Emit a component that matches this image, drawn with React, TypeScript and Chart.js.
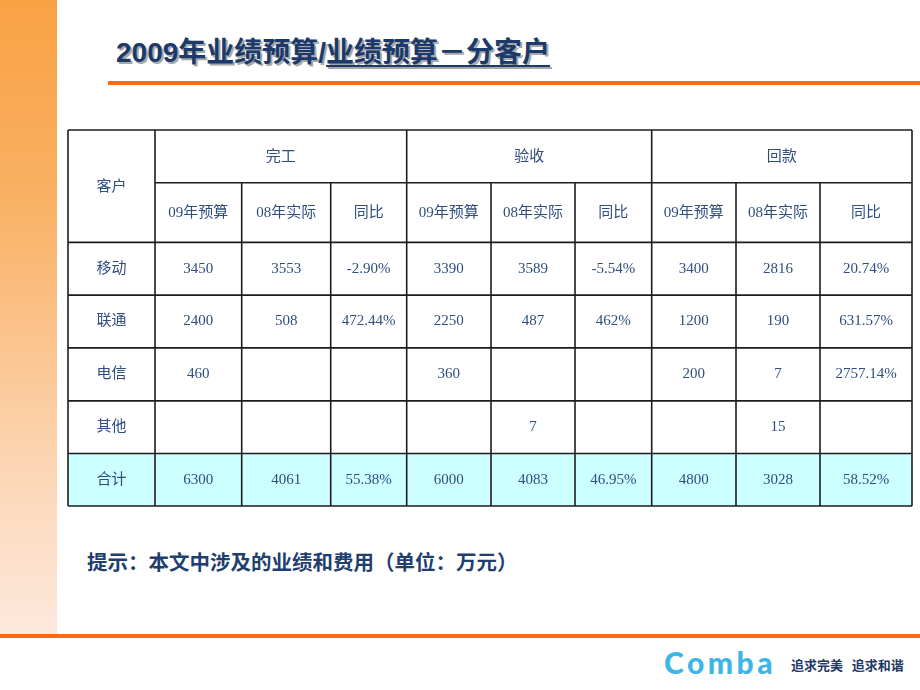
import React, { useEffect, useRef } from "react";
import { Chart, registerables } from "chart.js";

Chart.register(...registerables);

// ---- data ----
const titleMain = "2009年业绩预算/";
const titleSub = "业绩预算－分客户";
const hintText = "提示：本文中涉及的业绩和费用（单位：万元）";
const customerHeader = "客户";
const groups = ["完工", "验收", "回款"];
const subHeaders = ["09年预算", "08年实际", "同比"];
const customers = ["移动", "联通", "电信", "其他", "合计"];

const wangong09 = [3450, 2400, 460, null, 6300];
const wangong08 = [3553, 508, null, null, 4061];
const wangongYoY = ["-2.90%", "472.44%", "", "", "55.38%"];

const yanshou09 = [3390, 2250, 360, null, 6000];
const yanshou08 = [3589, 487, null, 7, 4083];
const yanshouYoY = ["-5.54%", "462%", "", "", "46.95%"];

const huikuan09 = [3400, 1200, 200, null, 4800];
const huikuan08 = [2816, 190, 7, 15, 3028];
const huikuanYoY = ["20.74%", "631.57%", "2757.14%", "", "58.52%"];

// ---- layout (sizes only) ----
const colWidths = [87, 86.7, 89, 76, 84.3, 84, 76.7, 84.3, 84, 92];
const rowHeights = [52.7, 59.6, 52.7, 52.7, 53, 52.6, 52.4];

const cum = (arr: number[]) => {
  const out = [0];
  arr.forEach((v) => out.push(out[out.length - 1] + v));
  return out;
};
const colEdges = cum(colWidths);
const rowEdges = cum(rowHeights);

const fmt = (v: number | string | null) =>
  v === null || v === undefined ? "" : String(v);

const columns = [
  wangong09, wangong08, wangongYoY,
  yanshou09, yanshou08, yanshouYoY,
  huikuan09, huikuan08, huikuanYoY,
];

const textColor = "#2F4E7E";
const lineColor = "#1c1c1c";
const totalFill = "#CCFFFF";
const cellFont = '15px "Liberation Serif", "Noto Sans CJK SC", serif';

const tablePlugin = {
  id: "tablePlugin",
  beforeDatasetsDraw(chart: any) {
    const { ctx, scales } = chart;
    const x = scales.x;
    const y = scales.y;
    const X = (i: number) => x.getPixelForValue(colEdges[i]);
    const Y = (j: number) => y.getPixelForValue(rowEdges[j]);
    const nCols = colWidths.length;
    const nRows = rowHeights.length;

    ctx.save();
    // total row fill
    ctx.fillStyle = totalFill;
    ctx.fillRect(X(0), Y(nRows - 1), X(nCols) - X(0), Y(nRows) - Y(nRows - 1));

    // grid lines
    ctx.strokeStyle = lineColor;
    ctx.lineWidth = 1.6;
    const line = (x1: number, y1: number, x2: number, y2: number) => {
      ctx.beginPath();
      ctx.moveTo(x1, y1);
      ctx.lineTo(x2, y2);
      ctx.stroke();
    };
    for (let i = 0; i <= nCols; i++) {
      const full = i === 0 || i === nCols || (i - 1) % 3 === 0;
      line(X(i), full ? Y(0) : Y(1), X(i), Y(nRows));
    }
    for (let j = 0; j <= nRows; j++) {
      line(j === 1 ? X(1) : X(0), Y(j), X(nCols), Y(j));
    }

    // text
    ctx.fillStyle = textColor;
    ctx.font = cellFont;
    ctx.textAlign = "center";
    ctx.textBaseline = "middle";
    const cx = (a: number, b: number) => (X(a) + X(b)) / 2;
    const cy = (a: number, b: number) => (Y(a) + Y(b)) / 2;

    ctx.fillText(customerHeader, cx(0, 1), cy(0, 2) + 1);
    groups.forEach((g, gi) => {
      ctx.fillText(g, cx(1 + gi * 3, 4 + gi * 3), cy(0, 1) + 1);
      subHeaders.forEach((s, si) => {
        const c = 1 + gi * 3 + si;
        ctx.fillText(s, cx(c, c + 1), cy(1, 2));
      });
    });
    customers.forEach((name, ri) => {
      const r = 2 + ri;
      ctx.fillText(name, cx(0, 1), cy(r, r + 1));
      columns.forEach((col, ci) => {
        const t = fmt(col[ri] as any);
        if (t) ctx.fillText(t, cx(ci + 1, ci + 2), cy(r, r + 1));
      });
    });
    ctx.restore();
  },
};

function TableChart() {
  const ref = useRef<HTMLCanvasElement | null>(null);
  useEffect(() => {
    if (!ref.current) return;
    const chart = new Chart(ref.current, {
      type: "scatter",
      data: { datasets: [{ data: [], showLine: false }] },
      options: {
        animation: false,
        responsive: false,
        events: [],
        layout: { padding: 2 },
        plugins: { legend: { display: false }, tooltip: { enabled: false } },
        scales: {
          x: { type: "linear", display: false, min: 0, max: colEdges[colEdges.length - 1] },
          y: { type: "linear", display: false, reverse: true, min: 0, max: rowEdges[rowEdges.length - 1] },
        },
      },
      plugins: [tablePlugin],
    });
    return () => chart.destroy();
  }, []);
  const w = colEdges[colEdges.length - 1] + 4;
  const h = rowEdges[rowEdges.length - 1] + 4;
  return (
    <canvas
      ref={ref}
      width={Math.round(w)}
      height={Math.round(h)}
      style={{ position: "absolute", left: 66, top: 128, width: Math.round(w), height: Math.round(h) }}
    />
  );
}

export default function App() {
  const navy = "#1B3A6B";
  return (
    <div
      style={{
        position: "absolute",
        left: 0,
        top: 0,
        width: 920,
        height: 690,
        background: "#ffffff",
        overflow: "hidden",
      }}
    >
      {/* left strip */}
      <div
        style={{
          position: "absolute",
          left: 0,
          top: 0,
          width: 57,
          height: 634,
          background:
            "linear-gradient(to bottom, #F8A244 0%, #F9B062 30%, #FBC590 55%, #FCD9BC 78%, #FDE8DC 100%)",
        }}
      />
      {/* title */}
      <div
        style={{
          position: "absolute",
          left: 116,
          top: 37,
          fontFamily: '"Liberation Sans", "Noto Sans CJK SC", sans-serif',
          fontWeight: "bold",
          fontSize: 28,
          lineHeight: "32px",
          color: navy,
          whiteSpace: "nowrap",
          textShadow: "2px 2px 0 #A8A8A8",
        }}
      >
        {titleMain}
        <span style={{ textDecoration: "underline", textUnderlineOffset: 3, textDecorationThickness: 2 }}>
          {titleSub}
        </span>
      </div>
      {/* title rule */}
      <div style={{ position: "absolute", left: 108, top: 81, width: 812, height: 4, background: "#FF6A10" }} />

      <TableChart />

      {/* hint */}
      <div
        style={{
          position: "absolute",
          left: 87,
          top: 547,
          fontFamily: '"Noto Sans CJK SC", sans-serif',
          fontWeight: "bold",
          fontSize: 20.5,
          lineHeight: "28px",
          color: "#1F3F6E",
          whiteSpace: "nowrap",
        }}
      >
        {hintText}
      </div>

      {/* bottom rule */}
      <div style={{ position: "absolute", left: 0, top: 634, width: 920, height: 4, background: "#FF6A10" }} />

      {/* logo */}
      <div
        style={{
          position: "absolute",
          left: 664,
          top: 645,
          fontFamily: '"Lato", "Liberation Sans", sans-serif',
          fontWeight: 900,
          fontSize: 30,
          lineHeight: "34px",
          letterSpacing: 3.5,
          color: "#3DB5E6",
          whiteSpace: "nowrap",
        }}
      >
        Comba
      </div>
      <div
        style={{
          position: "absolute",
          left: 791,
          top: 655,
          fontFamily: '"Noto Sans CJK SC", sans-serif',
          fontWeight: "bold",
          fontSize: 13,
          lineHeight: "20px",
          color: "#1F3864",
          whiteSpace: "nowrap",
        }}
      >
        追求完美&nbsp;&nbsp;&nbsp;追求和谐
      </div>
    </div>
  );
}
